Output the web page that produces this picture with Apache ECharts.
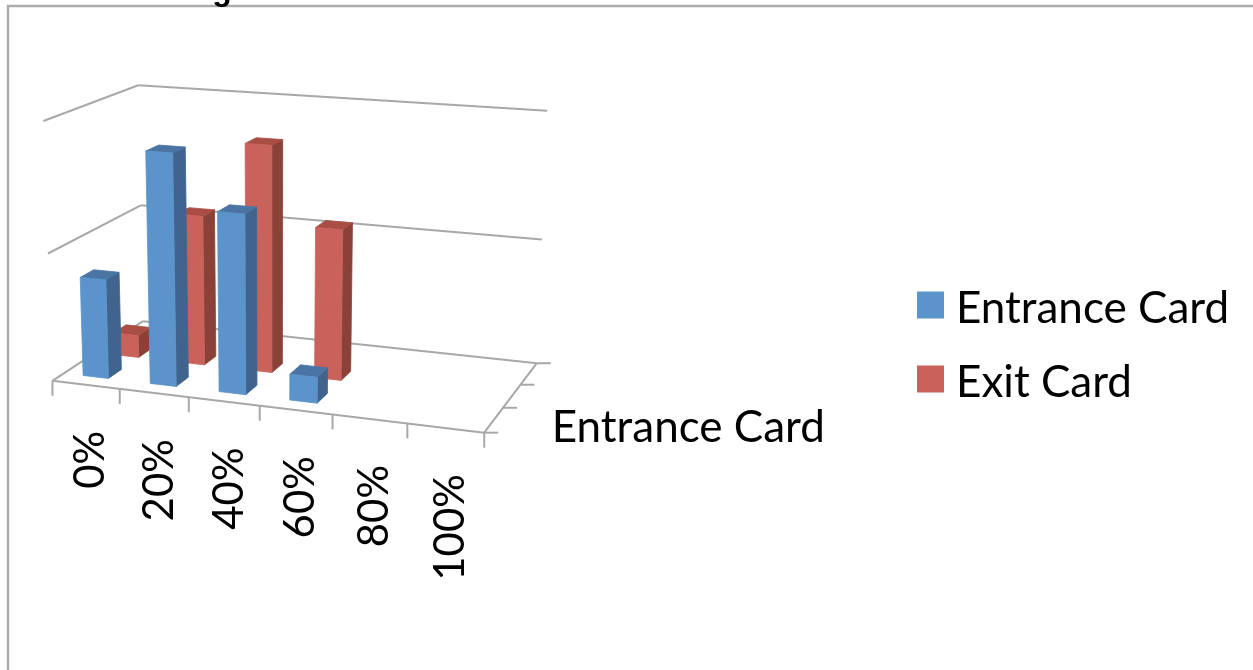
<!DOCTYPE html>
<html>
<head>
<meta charset="utf-8">
<style>html,body{margin:0;padding:0;background:#fff}#chart{width:1253px;height:670px}</style>
<script src="https://cdn.jsdelivr.net/npm/echarts@6/dist/echarts.min.js"></script>
</head>
<body>
<div id="chart"></div>
<script>
// Share of cards per answer band, as a 3D column chart.
const categories = ['0%', '20%', '40%', '60%', '80%', '100%'];
const entranceCard = [0.78, 1.79, 1.38, 0.20];
const exitCard = [0.18, 1.19, 1.78, 1.18];
const valueTicks = [0, 1, 2];
const depthLabel = 'Entrance Card';

const BLUE = { front: '#5b94ca', side: '#41648f', top: '#4a74a3' };
const RED = { front: '#c9625a', side: '#8a4238', top: '#a84e45' };
const LINE = '#a8a8a8';
const FONT = 'Lato, Carlito, sans-serif';
const DEPTH_SLOTS = 3;

// Camera: world (column, depth, height) to screen, fitted to the cage corners.
const cageAnchors = [
  [0, 0, 0, 55, 381], [6, 0, 0, 484, 433], [0, 3, 0, 141, 322], [6, 3, 0, 537, 363],
  [0, 0, 1, 47, 253], [0, 3, 1, 141, 204], [6, 3, 1, 542, 239],
  [0, 0, 2, 42, 121], [0, 3, 2, 140, 86], [6, 3, 2, 547, 111]
];

function fitCamera(anchors) {
  const rows = [];
  anchors.forEach(([X, Y, Z, u, v]) => {
    rows.push([X, Y, Z, 1, 0, 0, 0, 0, -u * X, -u * Y, -u * Z, u]);
    rows.push([0, 0, 0, 0, X, Y, Z, 1, -v * X, -v * Y, -v * Z, v]);
  });
  const n = 11;
  const M = Array.from({ length: n }, () => new Array(n + 1).fill(0));
  rows.forEach(r => {
    for (let i = 0; i < n; i++) {
      for (let j = 0; j <= n; j++) M[i][j] += r[i] * r[j];
    }
  });
  for (let c = 0; c < n; c++) {
    let best = c;
    for (let r = c + 1; r < n; r++) if (Math.abs(M[r][c]) > Math.abs(M[best][c])) best = r;
    [M[c], M[best]] = [M[best], M[c]];
    for (let r = 0; r < n; r++) {
      if (r === c) continue;
      const f = M[r][c] / M[c][c];
      for (let j = c; j <= n; j++) M[r][j] -= f * M[c][j];
    }
  }
  return M.map((row, i) => row[n] / row[i]);
}

const cam = fitCamera(cageAnchors);
function project(X, D, H) {
  const w = cam[8] * X + cam[9] * D + cam[10] * H + 1;
  return [
    (cam[0] * X + cam[1] * D + cam[2] * H + cam[3]) / w,
    (cam[4] * X + cam[5] * D + cam[6] * H + cam[7]) / w
  ];
}

// Reads the axis scales, then converts a grid pixel to world column and height.
function toWorld(params, api, value) {
  const p = api.coord(value);
  const g = params.coordSys;
  return {
    X: (p[0] - g.x) / g.width * categories.length,
    H: (g.y + g.height - p[1]) / g.height * valueTicks[valueTicks.length - 1]
  };
}

function line(a, b) {
  return {
    type: 'line',
    shape: { x1: a[0], y1: a[1], x2: b[0], y2: b[1] },
    style: { stroke: LINE, lineWidth: 2 }
  };
}

function renderCage() {
  const c = [];
  valueTicks.forEach(h => {
    c.push(line(project(0, 0, h), project(0, DEPTH_SLOTS, h)));
    c.push(line(project(0, DEPTH_SLOTS, h), project(categories.length, DEPTH_SLOTS, h)));
  });
  c.push(line(project(0, 0, 0), project(categories.length, 0, 0)));
  c.push(line(project(categories.length, 0, 0), project(categories.length, DEPTH_SLOTS, 0)));
  for (let i = 0; i <= categories.length; i++) {
    const p = project(i, 0, 0);
    c.push(line(p, [p[0], p[1] + 15]));
  }
  for (let d = 0; d <= DEPTH_SLOTS; d++) {
    const p = project(categories.length, d, 0);
    c.push(line(p, [p[0] + 14, p[1]]));
  }
  const q = project(categories.length, 0.5, 0);
  c.push({
    type: 'text',
    x: q[0] + 58, y: q[1] + 8,
    style: { text: depthLabel, font: '44px ' + FONT, fill: '#000', align: 'left', verticalAlign: 'middle' }
  });
  return { type: 'group', children: c };
}

function renderTickLabel(params, api) {
  const w = toWorld(params, api, [api.value(0), 0]);
  const p = project(w.X, 0, 0);
  return {
    type: 'text',
    x: p[0] + 5, y: p[1] + 46,
    rotation: Math.PI / 2,
    style: {
      text: categories[params.dataIndex], font: '42px ' + FONT, fill: '#000',
      align: 'right', verticalAlign: 'middle'
    }
  };
}

function renderBars(colors, d0, d1) {
  const hw = 0.19, shift = -0.02;
  return function (params, api) {
    const w = toWorld(params, api, [api.value(0), api.value(1)]);
    const x0 = w.X + shift - hw, x1 = w.X + shift + hw, h = w.H;
    const face = (pts, fill) => ({
      type: 'polygon',
      shape: { points: pts.map(t => project(t[0], t[1], t[2])) },
      style: { fill, stroke: fill, lineWidth: 0.8 }
    });
    return {
      type: 'group',
      children: [
        face([[x1, d0, 0], [x1, d1, 0], [x1, d1, h], [x1, d0, h]], colors.side),
        face([[x0, d0, h], [x1, d0, h], [x1, d1, h], [x0, d1, h]], colors.top),
        face([[x0, d0, 0], [x1, d0, 0], [x1, d0, h], [x0, d0, h]], colors.front)
      ]
    };
  };
}

const chart = echarts.init(document.getElementById('chart'));
chart.setOption({
  animation: false,
  backgroundColor: '#fff',
  grid: { left: 53, width: 431, top: 121, height: 260 },
  xAxis: { type: 'category', data: categories, show: false },
  yAxis: { type: 'value', min: 0, max: valueTicks[valueTicks.length - 1], interval: 1, show: false },
  legend: {
    orient: 'vertical', left: 917, top: 279, padding: 0,
    itemWidth: 27, itemHeight: 27, itemGap: 22,
    icon: 'rect',
    data: ['Entrance Card', 'Exit Card'],
    formatter: '{t|{name}}',
    textStyle: {
      rich: { t: { fontFamily: FONT, fontSize: 44, color: '#000', lineHeight: 44, padding: [8, 0, 0, 7] } }
    }
  },
  graphic: [
    { type: 'rect', z: -1, shape: { x: 8, y: 6, width: 1300, height: 720 },
      style: { fill: 'none', stroke: '#ababab', lineWidth: 2.5 } },
    { type: 'text', x: 222, y: -25, z: 5,
      style: { text: 'g', font: 'bold 32px "Liberation Sans"', fill: '#000', align: 'center', verticalAlign: 'top' } }
  ],
  series: [
    { type: 'custom', name: 'cage', data: [[0, 0]], renderItem: renderCage, silent: true, z: 1 },
    { type: 'custom', name: 'ticks', data: categories.map((c, i) => [i, 0]), renderItem: renderTickLabel, silent: true, z: 1 },
    { type: 'custom', name: 'Exit Card', data: exitCard.map((v, i) => [i, v]),
      renderItem: renderBars(RED, 1.35, 1.77), itemStyle: { color: RED.front }, z: 2 },
    { type: 'custom', name: 'Entrance Card', data: entranceCard.map((v, i) => [i, v]),
      renderItem: renderBars(BLUE, 0.35, 0.77), itemStyle: { color: BLUE.front }, z: 3 }
  ]
});
</script>
</body>
</html>
